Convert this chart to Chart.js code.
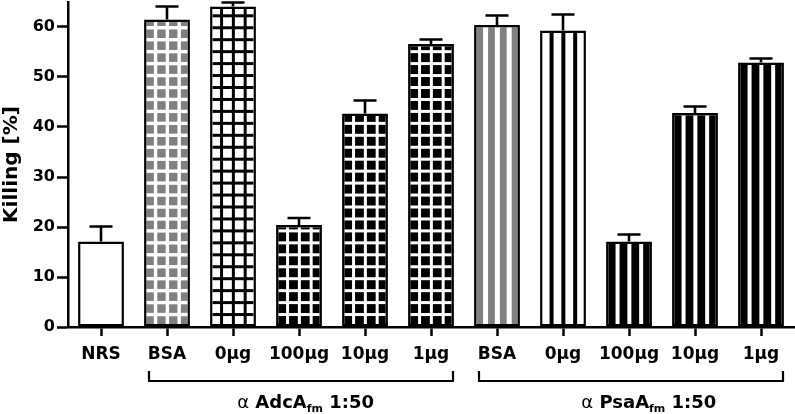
<!DOCTYPE html>
<html><head><meta charset="utf-8">
<script src="https://cdn.jsdelivr.net/npm/chart.js@4.4.1/dist/chart.umd.min.js"></script>
<style>html,body{margin:0;padding:0;background:#fff}#wrap{width:795px;height:414px;position:relative}</style>
</head><body><div id="wrap"><canvas id="c"></canvas></div>
<script>
// ---- data ----
const categories = ['NRS', 'BSA', '0\u03bcg', '100\u03bcg', '10\u00b5g', '1\u03bcg', 'BSA', '0\u03bcg', '100\u03bcg', '10\u00b5g', '1\u03bcg'];
const killing = [17.1, 61.5, 64.1, 20.4, 42.7, 56.6, 60.4, 59.3, 17.1, 42.8, 52.9];
const errors = [3.0, 2.6, 0.8, 1.4, 2.6, 0.9, 1.9, 3.2, 1.4, 1.3, 0.8];
const yTicks = [0, 10, 20, 30, 40, 50, 60];
const groupNames = ['AdcA', 'PsaA'];
const groupFirst = [1, 6];
const groupLast = [5, 10];
const groupSub = 'fm';
const groupDilution = '1:50';

// ---- styles (kept apart from data) ----
const FONT = 'DejaVu Sans';
const barStyles = [
  {base: '#ffffff'},
  {base: '#808080', line: '#ffffff', lw: 3.4, grid: true},
  {base: '#ffffff', line: '#000000', lw: 3.0, grid: true},
  {base: '#000000', line: '#ffffff', lw: 3.0, grid: true},
  {base: '#000000', line: '#ffffff', lw: 3.0, grid: true},
  {base: '#000000', line: '#ffffff', lw: 3.0, grid: true},
  {base: '#808080', line: '#ffffff', lw: 5.0, grid: false},
  {base: '#ffffff', line: '#000000', lw: 4.0, grid: false},
  {base: '#000000', line: '#ffffff', lw: 4.0, grid: false},
  {base: '#000000', line: '#ffffff', lw: 4.0, grid: false},
  {base: '#000000', line: '#ffffff', lw: 4.0, grid: false}
];
const BW = 2.5;

const patternPlugin = {
  id: 'patterns',
  afterDatasetsDraw(chart) {
    const ctx = chart.ctx;
    const meta = chart.getDatasetMeta(0);
    const yScale = chart.scales.y;
    meta.data.forEach((bar, i) => {
      const st = barStyles[i];
      const p = bar.getProps(['x', 'y', 'base', 'width'], true);
      const L = p.x - p.width / 2, R = p.x + p.width / 2;
      const T = Math.min(p.y, p.base), B = Math.max(p.y, p.base);
      if (st.line) {
        ctx.save();
        ctx.beginPath();
        ctx.rect(L + BW, T + BW, p.width - 2 * BW, B - T - 2 * BW);
        ctx.clip();
        ctx.fillStyle = st.line;
        const period = 11.8, off = 11.5;
        for (let k = 0; ; k++) {
          const cx = L + off + k * period;
          if (cx > R - 4) break;
          ctx.fillRect(cx - st.lw / 2, T, st.lw, B - T);
        }
        if (st.grid) {
          const hp = 11.95;
          for (let k = 1; ; k++) {
            const cy = B - k * hp;
            if (cy < T) break;
            ctx.fillRect(L, cy - st.lw / 2, p.width, st.lw);
          }
        }
        ctx.restore();
      }
      // error bar
      const yTop = yScale.getPixelForValue(killing[i] + errors[i]);
      ctx.save();
      ctx.strokeStyle = '#000';
      ctx.lineWidth = 2.6;
      ctx.beginPath();
      ctx.moveTo(p.x, T);
      ctx.lineTo(p.x, yTop);
      ctx.moveTo(p.x - 11.5, yTop);
      ctx.lineTo(p.x + 11.5, yTop);
      ctx.stroke();
      ctx.restore();
    });
  }
};

const groupPlugin = {
  id: 'groups',
  afterDraw(chart) {
    const ctx = chart.ctx;
    const xs = chart.scales.x;
    const anchors = [3.1, 8.3];
    ctx.save();
    ctx.strokeStyle = '#000';
    ctx.fillStyle = '#000';
    ctx.lineWidth = 2.2;
    groupNames.forEach((name, g) => {
      const x0 = xs.getPixelForValue(groupFirst[g]) - 18;
      const x1 = xs.getPixelForValue(groupLast[g]) + 22;
      const yb = 381;
      ctx.beginPath();
      ctx.moveTo(x0, 371); ctx.lineTo(x0, yb); ctx.lineTo(x1, yb); ctx.lineTo(x1, 371);
      ctx.stroke();
      const parts = [
        {t: '\u03b1', f: 'normal 18px "' + FONT + '"', dy: 0},
        {t: ' ' + name, f: 'bold 18px "' + FONT + '"', dy: 0},
        {t: groupSub, f: 'bold 11px "' + FONT + '"', dy: 4},
        {t: ' ' + groupDilution, f: 'bold 18px "' + FONT + '"', dy: 0}
      ];
      let total = 0;
      parts.forEach(pt => { ctx.font = pt.f; pt.w = ctx.measureText(pt.t).width; total += pt.w; });
      let cx = xs.getPixelForValue(anchors[g]) - total / 2;
      const baseY = 408;
      ctx.textBaseline = 'alphabetic';
      ctx.textAlign = 'left';
      parts.forEach(pt => { ctx.font = pt.f; ctx.fillText(pt.t, cx, baseY + pt.dy); cx += pt.w; });
    });
    ctx.restore();
  }
};

new Chart(document.getElementById('c'), {
  type: 'bar',
  data: {
    labels: categories,
    datasets: [{
      data: killing,
      backgroundColor: barStyles.map(s => s.base),
      borderColor: '#000',
      borderWidth: BW,
      borderSkipped: false,
      categoryPercentage: 1,
      barPercentage: 0.695
    }]
  },
  options: {
    responsive: true,
    maintainAspectRatio: false,
    animation: false,
    events: [],
    layout: {padding: {top: 2, right: 1, left: 0, bottom: 0}},
    plugins: {legend: {display: false}, tooltip: {enabled: false}},
    scales: {
      x: {
        grid: {offset: false, drawOnChartArea: false, drawTicks: true, tickLength: 9, tickWidth: 2.5, tickColor: '#000'},
        border: {color: '#000', width: 2.5},
        ticks: {color: '#000', font: {family: FONT, weight: 'bold', size: 17}, padding: 8, maxRotation: 0, autoSkip: false},
        afterFit(s) { s.height = 87; s.paddingLeft = 0; s.paddingRight = 0; }
      },
      y: {
        min: 0, max: 65,
        afterBuildTicks(s) { s.ticks = yTicks.map(v => ({value: v})); },
        grid: {drawOnChartArea: false, drawTicks: true, tickLength: 11, tickWidth: 2.5, tickColor: '#000'},
        border: {color: '#000', width: 2.5},
        ticks: {color: '#000', font: {family: FONT, weight: 'bold', size: 16}, padding: 2},
        title: {display: true, text: 'Killing [%]', color: '#000', font: {family: FONT, weight: 'bold', size: 20}, padding: 0},
        afterFit(s) { s.width = 68; s.paddingTop = 0; s.paddingBottom = 0; }
      }
    }
  },
  plugins: [patternPlugin, groupPlugin]
});
</script></body></html>
